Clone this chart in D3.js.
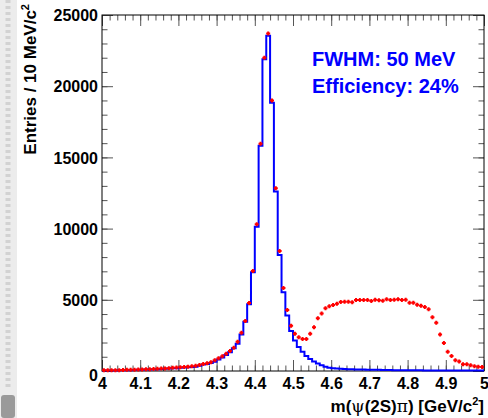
<!DOCTYPE html>
<html>
<head>
<meta charset="utf-8">
<script src="https://cdn.jsdelivr.net/npm/d3@7"></script>
<style>
    body { margin: 0; background: #fff; }
    svg { display: block; font-family: "Liberation Sans", Arial, sans-serif; font-weight: bold; }
    .axis path { display: none; }
    .axis line { stroke: #555; }
    .axis text { fill: #000; font-size: 16px; font-weight: bold; }
</style>
</head>
<body>
<div id="chart"></div>
<script>

// bins: 10 MeV wide, 4.00 - 5.00 GeV
var binLow = 4.0, binWidth = 0.01;

// signal MC (blue histogram)
var blueCounts = [30,30,40,40,50,50,60,60,70,80,90,100,110,120,130,140,150,170,190,200,220,240,260,280,300,
    370,450,500,560,650,800,940,1120,1310,1590,1920,2570,3460,4680,6930,10130,15820,21900,23550,18840,12600,8150,5530,
    3890,2810,2150,1690,1360,1050,840,660,520,400,300,230,190,170,150,140,130,120,110,100,100,90,90,80,80,70,70,
    70,60,60,60,50,50,50,50,50,40,40,40,40,40,40,40,30,30,30,30,30,30,30,30,30];

// red points
var redCounts = [50,50,50,60,60,70,80,80,90,100,110,120,130,140,150,170,180,200,220,240,260,280,300,330,360,
    420,500,550,610,750,890,1030,1220,1400,1640,2060,2690,3510,4780,7020,10300,15960,22000,23700,19000,12830,8430,5830,
    4280,3180,2620,2370,2250,2250,2620,3070,3700,4030,4400,4540,4630,4730,4850,4870,4870,4820,4990,4990,4990,4990,4920,5010,4960,4940,5030,
    4990,5010,5030,4990,5010,4800,4800,4660,4590,4490,4330,3770,3390,2570,1970,1360,1050,750,660,470,470,400,330,300,280];

var xTickValues = [4.0,4.1,4.2,4.3,4.4,4.5,4.6,4.7,4.8,4.9,5.0];
var xTickLabels = ["4","4.1","4.2","4.3","4.4","4.5","4.6","4.7","4.8","4.9","5"];
var yTickValues = [0,5000,10000,15000,20000,25000];
var yTickLabels = ["0","5000","10000","15000","20000","25000"];

var infoLines = ["FWHM: 50 MeV", "Efficiency: 24%"];


var margin = { top: 15, right: 4, bottom: 47, left: 102 };
var width = 488 - margin.left - margin.right,
    height = 418 - margin.top - margin.bottom;

var svg = d3.select("#chart").append("svg")
    .attr("width", 488)
    .attr("height", 418);

// faint scan artefact on the left edge of the original slide
svg.append("rect")
    .attr("x", 0).attr("y", 0)
    .attr("width", 17).attr("height", 418)
    .attr("fill", "#ececec");
svg.append("line")
    .attr("x1", 8).attr("x2", 8)
    .attr("y1", 0).attr("y2", 390)
    .attr("stroke", "#d2d2d2")
    .attr("stroke-width", 5)
    .attr("stroke-dasharray", "3,3");
svg.append("rect")
    .attr("x", 1).attr("y", 395)
    .attr("width", 14).attr("height", 23)
    .attr("rx", 3)
    .attr("fill", "#9a9a9a");

var g = svg.append("g")
    .attr("transform", "translate(" + margin.left + "," + margin.top + ")");

// Scales
var x = d3.scaleLinear()
    .domain([4.0, 5.0])
    .range([0, width]);

var y = d3.scaleLinear()
    .domain([0, 25000])
    .range([height, 0]);

// minor ticks every 0.02 / 1000
var xMinor = d3.range(0, 51).map(function(i) { return 4.0 + i * 0.02; });
var yMinor = d3.range(0, 26).map(function(i) { return i * 1000; });

function xLabel(d) { return xTickLabels[xTickValues.indexOf(d)]; }
function yLabel(d) { return yTickLabels[yTickValues.indexOf(d)]; }

// bottom axis
g.append("g")
    .attr("class", "axis")
    .attr("transform", "translate(0," + height + ")")
    .call(d3.axisBottom(x).tickValues(xMinor).tickSize(-5.5).tickFormat(""));
g.append("g")
    .attr("class", "axis x-axis")
    .attr("transform", "translate(0," + height + ")")
    .call(d3.axisBottom(x).tickValues(xTickValues).tickSize(-11).tickPadding(3).tickFormat(xLabel));

// top axis
g.append("g")
    .attr("class", "axis")
    .call(d3.axisTop(x).tickValues(xMinor).tickSize(-5.5).tickFormat(""));
g.append("g")
    .attr("class", "axis")
    .call(d3.axisTop(x).tickValues(xTickValues).tickSize(-11).tickFormat(""));

// left axis
g.append("g")
    .attr("class", "axis")
    .call(d3.axisLeft(y).tickValues(yMinor).tickSize(-5.5).tickFormat(""));
g.append("g")
    .attr("class", "axis y-axis")
    .call(d3.axisLeft(y).tickValues(yTickValues).tickSize(-11).tickPadding(4).tickFormat(yLabel));

// right axis
g.append("g")
    .attr("class", "axis")
    .attr("transform", "translate(" + width + ",0)")
    .call(d3.axisRight(y).tickValues(yMinor).tickSize(-5.5).tickFormat(""));
g.append("g")
    .attr("class", "axis")
    .attr("transform", "translate(" + width + ",0)")
    .call(d3.axisRight(y).tickValues(yTickValues).tickSize(-11).tickFormat(""));

g.select(".x-axis").selectAll("text").attr("dy", "0.95em");
g.select(".y-axis").selectAll("text").attr("dy", "0.35em");
// ROOT pushes the "0" down a little
g.select(".y-axis").selectAll("text")
    .filter(function(d) { return d === 0; })
    .attr("dy", "0.6em");

// frame
g.append("rect")
    .attr("width", width)
    .attr("height", height)
    .attr("fill", "none")
    .attr("stroke", "#000")
    .attr("stroke-width", 1);

// blue histogram outline
var steps = [];
blueCounts.forEach(function(c, i) {
    var lo = binLow + i * binWidth;
    steps.push([lo, c]);
    steps.push([lo + binWidth, c]);
});

var histLine = d3.line()
    .x(function(d) { return x(d[0]); })
    .y(function(d) { return y(d[1]); });

g.append("path")
    .datum(steps)
    .attr("d", histLine)
    .attr("fill", "none")
    .attr("stroke", "#0000ff")
    .attr("stroke-width", 2)
    .attr("stroke-linejoin", "miter");

// red markers at bin centres
g.selectAll(".pt")
    .data(redCounts)
    .enter().append("path")
    .attr("class", "pt")
    .attr("transform", function(d, i) {
        return "translate(" + x(binLow + (i + 0.5) * binWidth) + "," + y(d) + ")";
    })
    .attr("d", "M-2,-1H2V1H-2Z M-1,-2H1V2H-1Z")
    .attr("fill", "#ff0000");

// info box text
svg.selectAll(".info")
    .data(infoLines)
    .enter().append("text")
    .attr("class", "info")
    .attr("x", 312)
    .attr("y", function(d, i) { return 66 + i * 27; })
    .attr("fill", "#0000ff")
    .style("font-size", "20px")
    .text(function(d) { return d; });

// axis titles
var xTitle = svg.append("text")
    .attr("x", 484)
    .attr("y", 412)
    .attr("text-anchor", "end")
    .style("font-size", "17px");
xTitle.append("tspan").text("m(");
xTitle.append("tspan").style("font-weight", "normal").style("font-family", "DejaVu Serif").text("ψ");
xTitle.append("tspan").text("(2S)");
xTitle.append("tspan").style("font-weight", "normal").style("font-family", "DejaVu Serif").text("π");
xTitle.append("tspan").text(") [GeV/c");
xTitle.append("tspan").attr("dy", -7).style("font-size", "11px").text("2");
xTitle.append("tspan").attr("dy", 7).text("]");

var yTitle = svg.append("text")
    .attr("transform", "translate(36,4) rotate(-90)")
    .attr("text-anchor", "end")
    .style("font-size", "17px");
yTitle.append("tspan").text("Entries / 10 MeV/c");
yTitle.append("tspan").attr("dy", -7).style("font-size", "11px").text("2");

</script>
</body>
</html>
